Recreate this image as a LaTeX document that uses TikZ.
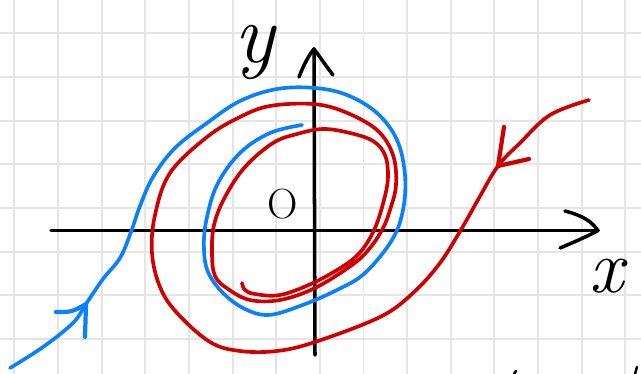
\documentclass[tikz,border=0pt]{standalone}
\usepackage{tikz}
\definecolor{redpen}{RGB}{208,0,0}
\definecolor{bluepen}{RGB}{10,128,255}
\definecolor{gridgray}{RGB}{229,229,229}
\tikzset{gridline/.style={gridgray,line width=1.4pt},
  axisline/.style={black,line width=2.5pt,line cap=round,line join=round},
  redcurve/.style={redpen,line width=2.6pt,line cap=round,line join=round},
  bluecurve/.style={bluepen,line width=2.6pt,line cap=round,line join=round},
  penmark/.style={black,line width=1.8pt,line cap=round}}

\begin{document}
\begin{tikzpicture}[x=0.025cm,y=-0.025cm]
\useasboundingbox (0,0) rectangle (641,374);
\fill[white] (0,0) rectangle (641,374);

%Grid paper
\foreach \i in {0,...,14} \draw[gridline] ({14.3+43.65*\i},0)--({14.3+43.65*\i},374);
\foreach \j in {0,...,7} \draw[gridline] (0,{33.3+43.65*\j})--(641,{33.3+43.65*\j});

%Axes
\coordinate (xl) at (51,230.5); \coordinate (xr) at (598,230.5); \coordinate (yb) at (315,355); \coordinate (yt) at (314,49);
\draw[axisline] (xl)--(xr); \draw[axisline] (yb)--(yt);
\draw[axisline] (565,211) .. controls (584,216) and (592,222) .. (xr) .. controls (586,237) and (572,243) .. (560,248);
\draw[axisline] (299,77) .. controls (304,64) and (309,55) .. (yt) .. controls (320,57) and (326,66) .. (333,75);
\node[anchor=base,inner sep=0pt] (ylabel) at (255,63) {\fontsize{60}{64}\selectfont\itshape y};
\node[anchor=base,inner sep=0pt] (xlabel) at (607,293) {\fontsize{54}{58}\selectfont\itshape x};
\node[inner sep=0pt] (olabel) at (283,204) {\fontsize{30}{34}\selectfont O};

%Blue trajectory
\coordinate (bluetip) at (86,304);
\draw[bluecurve] plot[smooth,tension=0.6] coordinates {(10,368) (43,347) (73,323) (bluetip) (103,279) (120,258) (131,232) (140,206) (153,177) (175,148) (207,123) (240,101) (277,89) (315,88) (347,95) (377,113) (397,140) (405,175) (403,210) (392,240) (365,273) (337,290) (300,306) (268,315) (243,308) (222,292) (208,272) (204,250) (206,222) (217,185) (240,153) (270,133) (302,125)};
\draw[bluecurve,line width=3pt] (56,312) .. controls (72,312) .. (bluetip) -- (85,337);

%Red trajectory
\coordinate (redtip) at (498,166);
\draw[redcurve] plot[smooth,tension=0.6] coordinates {(589,100) (550,115) (520,143) (redtip) (479,198) (462,228) (440,263) (413,293) (380,317) (315,342) (277,351) (240,351) (210,342) (177,313) (160,287) (152,253) (155,215) (170,173) (207,137) (240,117) (270,106) (313,104) (345,112) (377,130) (393,155) (396,185) (390,210) (383,228) (370,248) (352,265) (315,288) (280,300) (250,300) (228,289) (215,276) (212,253) (214,225) (225,197) (245,167) (273,143) (297,134) (323,129) (350,133) (373,141) (385,155) (388,177) (384,200) (375,228) (362,250) (345,265) (313,283) (280,295) (255,294) (245,290) (242,283)};
\draw[redcurve,line width=3pt] (504,127) -- (redtip) -- (529,159);

%Cut-off pen marks at the bottom edge
\draw[penmark] (514,374)--(516,371); \draw[penmark] (635,374)--(637,367);

\end{tikzpicture}
\end{document}
